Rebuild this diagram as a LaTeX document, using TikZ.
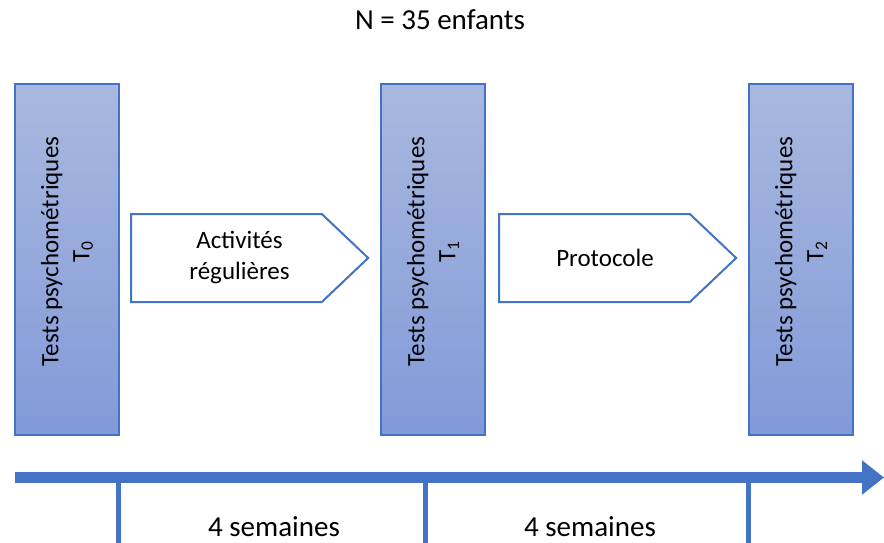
\documentclass[tikz,border=0pt]{standalone}
\usepackage{fontspec}
\setmainfont{Carlito}
\usetikzlibrary{shapes.symbols, arrows.meta}

\definecolor{officeblue}{RGB}{68,114,196}
\definecolor{bartop}{RGB}{169,184,222}
\definecolor{barbottom}{RGB}{129,154,216}

\begin{document}
\begin{tikzpicture}[x=1pt, y=-1pt,
   base_text_style/.style={inner sep=0pt, text=black, font=\fontsize{25}{31}\selectfont, align=center},
   bar_style/.style={draw=officeblue, line width=1.5pt, top color=bartop, bottom color=barbottom, minimum width=104pt, minimum height=351pt, inner sep=0pt},
   bar_text_style/.style={base_text_style, rotate=90},
   phase_style/.style={draw=officeblue, line width=2pt, fill=white, shape=signal, signal to=east, signal from=nowhere, signal pointer angle=87, minimum width=237pt, minimum height=88pt, inner sep=0pt},
   big_text_style/.style={base_text_style, font=\fontsize{29}{35}\selectfont},
   timeline_style/.style={officeblue, line width=11pt, -{Triangle[length=22pt, width=33pt]}},
   tick_style/.style={officeblue, line width=4.5pt}]

    \useasboundingbox (0,0) rectangle (884,543);

    \node[big_text_style] (N) at (440,20) {N = 35 enfants};

    \node[bar_style] (T0) at (67,259.5) {};
    \node[bar_style] (T1) at (433,259.5) {};
    \node[bar_style] (T2) at (801,259.5) {};
    \node[bar_text_style] (T0_text) at ([yshift=8pt]T0.center) {Tests psychométriques\\T\textsubscript{0}};
    \node[bar_text_style] (T1_text) at ([yshift=8pt]T1.center) {Tests psychométriques\\T\textsubscript{1}};
    \node[bar_text_style] (T2_text) at ([yshift=8pt]T2.center) {Tests psychométriques\\T\textsubscript{2}};

    \node[phase_style] (A) at (226.5,258) {};
    \node[phase_style] (P) at (594.5,258) {};
    \node[base_text_style] (A_text) at ([xshift=13pt]A.center) {Activités\\régulières};
    \node[base_text_style] (P_text) at ([xshift=10.5pt]P.center) {Protocole};

    \coordinate (start) at (15,477.5);
    \coordinate (end) at (884,477.5);
    \draw[timeline_style] (start) -- (end);

    \coordinate (s0) at (118.5,483);
    \coordinate (s1) at (425.5,483);
    \coordinate (s2) at (748.5,483);
    \coordinate (e0) at (118.5,543);
    \coordinate (e1) at (425.5,543);
    \coordinate (e2) at (748.5,543);
    \draw[tick_style] (s0) -- (e0);
    \draw[tick_style] (s1) -- (e1);
    \draw[tick_style] (s2) -- (e2);

    \node[big_text_style] (W1) at (274,527) {4 semaines};
    \node[big_text_style] (W2) at (590,527) {4 semaines};
\end{tikzpicture}
\end{document}
